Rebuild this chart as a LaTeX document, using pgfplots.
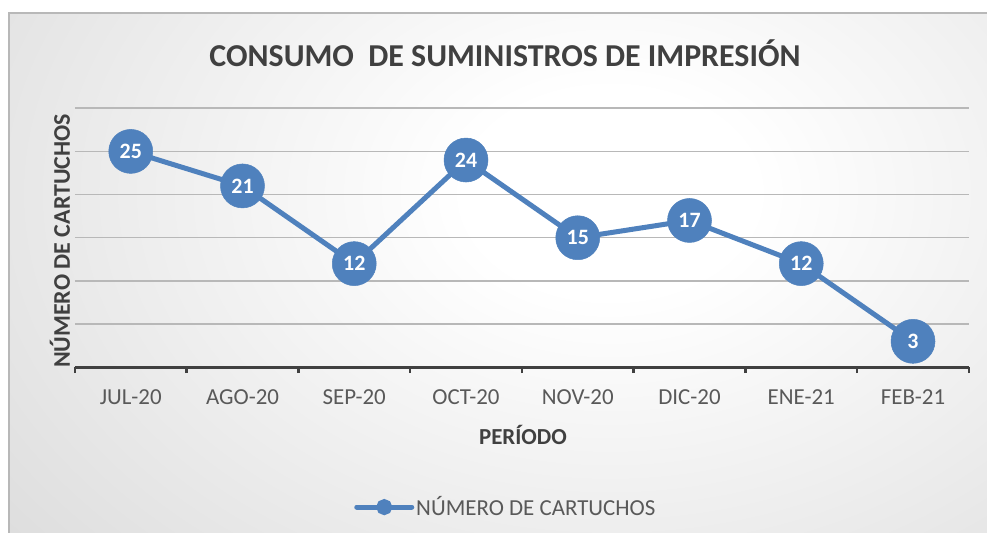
\documentclass[border=0pt]{standalone}
\usepackage{pgfplots}
\pgfplotsset{compat=1.18}
\usepackage{fontspec}
\setmainfont{Carlito}
\definecolor{serie}{HTML}{4F81BD}
\definecolor{titlegray}{HTML}{404040}
\definecolor{tickgray}{HTML}{595959}
\definecolor{gridgray}{HTML}{B8B8B8}
\pgfdeclareradialshading{bgshade}{\pgfpoint{0bp}{0bp}}{color(0bp)=(white); color(6bp)=(white); color(50bp)=(black!22); color(75bp)=(black!22)}
\begin{document}
\begin{tikzpicture}[x=1bp,y=1bp]
\path[use as bounding box] (0,0) rectangle (987,533);
\fill[white] (0,0) rectangle (987,533);
\begin{scope}
\clip (9,0) rectangle (987,520);
\shade[shading=bgshade] (610-600,340-430) rectangle (610+600,340+430);
\end{scope}
\draw[black!28, line width=1.5bp] (9,0) -- (9,520) -- (987,520);
\begin{axis}[
  at={(67,192)}, anchor=south west,
  scale only axis, width=894bp, height=259bp,
  xmin=-0.5, xmax=7.5, ymin=0, ymax=30,
  clip=false,
  /pgf/number format/assume math mode=true,
  axis x line*=bottom, axis y line*=left,
  y axis line style={draw=none},
  x axis line style={titlegray, line width=3bp},
  xtick={0,...,7},
  xticklabels={JUL-20,AGO-20,SEP-20,OCT-20,NOV-20,DIC-20,ENE-21,FEB-21},
  minor xtick={-0.5,0.5,...,7.5},
  major x tick style={draw=none},
  minor x tick style={titlegray, line width=2.5bp},
  tick align=outside,
  minor tick length=6bp,
  ytick={5,10,...,30}, yticklabels={},
  major y tick style={draw=none},
  ymajorgrids, grid style={gridgray, line width=1.5bp},
  xticklabel style={text=tickgray, font=\fontsize{23}{27}\selectfont, yshift=-15bp},
  nodes near coords,
  every node near coord/.append style={anchor=center, text=white, font=\bfseries\fontsize{22}{22}\selectfont},
  legend style={at={(axis description cs:0.482,-0.54)}, anchor=center, draw=none, fill=none,
    font=\fontsize{23}{27}\selectfont, text=tickgray},
  legend image code/.code={
    \draw[serie, line width=5bp, line cap=round] (0bp,0bp) -- (55bp,0bp);
    \fill[serie] (27.5bp,0bp) circle (5.5bp);
  },
]
\addplot[serie, line width=5bp, mark=*, mark size=22bp, mark options={solid, line width=0.5bp, fill=serie, draw=serie}]
  coordinates {(0,25) (1,21) (2,12) (3,24) (4,15) (5,17) (6,12) (7,3)};
\addlegendentry{NÚMERO DE CARTUCHOS}
\end{axis}
\node[font=\bfseries\fontsize{32}{38}\selectfont, text=titlegray] at (505,480) {CONSUMO\ \ DE SUMINISTROS DE IMPRESIÓN};
\node[rotate=90, font=\bfseries\fontsize{24}{28}\selectfont, text=titlegray] at (60,292) {NÚMERO DE CARTUCHOS};
\node[font=\bfseries\fontsize{23}{27}\selectfont, text=titlegray] at (523,98) {PERÍODO};
\end{tikzpicture}
\end{document}
